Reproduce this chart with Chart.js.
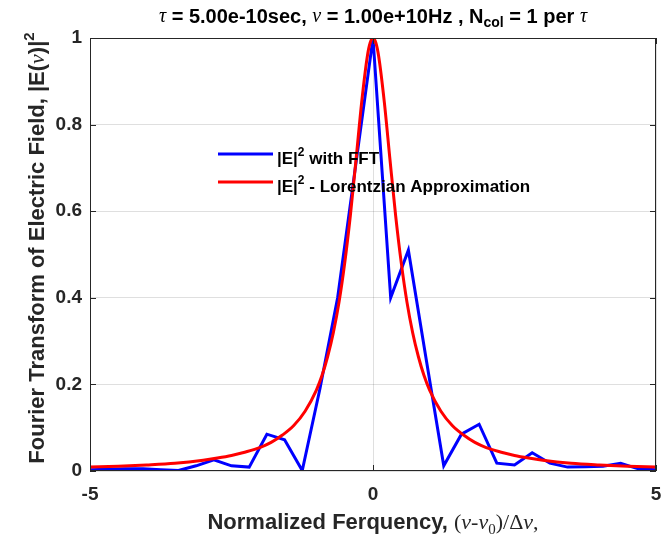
<!DOCTYPE html>
<html>
<head>
<meta charset="utf-8">
<script src="https://cdn.jsdelivr.net/npm/chart.js@4.4.1/dist/chart.umd.min.js"></script>
<style>
	html, body { margin: 0; padding: 0; background: #fff; }
</style>
</head>
<body>
<canvas id="chartSpectre" width="662" height="543"></canvas>
<script>
// Data
const freqFFT = [-5, -4.6875, -4.375, -4.0625, -3.75, -3.4375, -3.125, -2.8125, -2.5, -2.1875, -1.875, -1.5625, -1.25, -0.9375, -0.625, -0.3125, 0,
	0.3125, 0.625, 0.9375, 1.25, 1.5625, 1.875, 2.1875, 2.5, 2.8125, 3.125, 3.4375, 3.75, 4.0625, 4.375, 4.6875, 5];
const intensityFFT = [0.003, 0.004, 0.005, 0.005, 0.003, 0.001, 0.012, 0.026, 0.012, 0.009, 0.085, 0.072, 0.001, 0.19, 0.40, 0.70, 1.0,
	0.40, 0.51, 0.26, 0.012, 0.085, 0.108, 0.018, 0.014, 0.042, 0.018, 0.009, 0.010, 0.011, 0.018, 0.005, 0.003];

const freqLorentz = [-5, -4.5, -4, -3.5, -3, -2.75, -2.5, -2.25, -2, -1.8, -1.6, -1.4, -1.2, -1, -0.9, -0.8, -0.7, -0.6, -0.5, -0.4, -0.3, -0.2, -0.1, -0.05, 0,
	0.05, 0.1, 0.2, 0.3, 0.4, 0.5, 0.6, 0.7, 0.8, 0.9, 1, 1.2, 1.4, 1.6, 1.8, 2, 2.25, 2.5, 2.75, 3, 3.5, 4, 4.5, 5];
const intensityLorentz = [0.009, 0.011, 0.014, 0.018, 0.025, 0.030, 0.036, 0.044, 0.054, 0.066, 0.083, 0.105, 0.138, 0.187, 0.221, 0.265, 0.320, 0.390, 0.480, 0.590, 0.719, 0.852, 0.958, 0.989, 1.000,
	0.989, 0.958, 0.852, 0.719, 0.590, 0.480, 0.390, 0.320, 0.265, 0.221, 0.187, 0.138, 0.105, 0.083, 0.066, 0.054, 0.044, 0.036, 0.030, 0.025, 0.018, 0.014, 0.011, 0.009];

const xTicks = [-5, 0, 5];
const yTicks = [0, 0.2, 0.4, 0.6, 0.8, 1];

const SANS = '"Liberation Sans", Arial, sans-serif';
const SERIF = '"Liberation Serif", "DejaVu Serif", serif';
const AXIS_COLOR = '#262626';

// texte avec indices / exposants
function drawRuns(ctx, runs, x, y, align) {
	let total = 0;
	runs.forEach(function(r){
		ctx.font = r.font;
		r.w = ctx.measureText(r.text).width;
		total += r.w;
	});
	let cx = align == 'left' ? x : x - total / 2;
	runs.forEach(function(r){
		ctx.font = r.font;
		ctx.fillText(r.text, cx, y + (r.dy || 0));
		cx += r.w;
	});
}

const bold = function(s){ return 'bold ' + s + 'px ' + SANS; };
const greek = function(s){ return 'italic ' + s + 'px ' + SERIF; };

const titleRuns = [
	{text: 'τ', font: greek(20)},
	{text: ' = 5.00e-10sec, ', font: bold(20)},
	{text: 'ν', font: greek(20)},
	{text: ' = 1.00e+10Hz , N', font: bold(20)},
	{text: 'col', font: bold(14), dy: 6},
	{text: ' = 1 per ', font: bold(20)},
	{text: 'τ', font: greek(20)}
];
const xLabelRuns = [
	{text: 'Normalized Ferquency, ', font: bold(22)},
	{text: '(', font: '22px ' + SERIF},
	{text: 'ν', font: greek(22)},
	{text: '-', font: '22px ' + SERIF},
	{text: 'ν', font: greek(22)},
	{text: '0', font: '15px ' + SERIF, dy: 7},
	{text: ')/Δ', font: '22px ' + SERIF},
	{text: 'ν', font: greek(22)},
	{text: ',', font: '22px ' + SERIF}
];
const yLabelRuns = [
	{text: 'Fourier Transform of Electric Field, |E(', font: bold(22)},
	{text: 'ν', font: greek(22)},
	{text: ')|', font: bold(22)},
	{text: '2', font: bold(15), dy: -8}
];
const legendItems = [
	{color: '#0000ff', runs: [
		{text: '|E|', font: bold(17)},
		{text: '2', font: bold(12), dy: -6},
		{text: ' with FFT', font: bold(17)}
	]},
	{color: '#ff0000', runs: [
		{text: '|E|', font: bold(17)},
		{text: '2', font: bold(12), dy: -6},
		{text: ' - Lorentzian Approximation', font: bold(17)}
	]}
];

const decorPlugin = {
	id: 'decor',
	afterDraw: function(chart) {
		const ctx = chart.ctx;
		const area = chart.chartArea;
		const sx = chart.scales.x;
		const sy = chart.scales.y;
		ctx.save();

		// cadre + ticks internes
		ctx.strokeStyle = AXIS_COLOR;
		ctx.lineWidth = 1;
		ctx.strokeRect(area.left + 0.5, area.top + 0.5, area.right - area.left - 1, area.bottom - area.top - 1);
		ctx.beginPath();
		yTicks.forEach(function(v){
			const py = Math.round(sy.getPixelForValue(v)) + 0.5;
			ctx.moveTo(area.left, py); ctx.lineTo(area.left + 6, py);
			ctx.moveTo(area.right, py); ctx.lineTo(area.right - 6, py);
		});
		xTicks.forEach(function(v){
			const px = Math.round(sx.getPixelForValue(v)) + 0.5;
			ctx.moveTo(px, area.bottom); ctx.lineTo(px, area.bottom - 6);
			ctx.moveTo(px, area.top); ctx.lineTo(px, area.top + 6);
		});
		ctx.stroke();

		// legende
		ctx.textBaseline = 'middle';
		ctx.textAlign = 'left';
		legendItems.forEach(function(item, i){
			const ly = 154 + i * 28;
			ctx.strokeStyle = item.color;
			ctx.lineWidth = 3;
			ctx.beginPath();
			ctx.moveTo(218, ly); ctx.lineTo(273, ly);
			ctx.stroke();
			ctx.fillStyle = '#000';
			drawRuns(ctx, item.runs, 277, ly + 5, 'left');
		});

		// titres
		const cx = (area.left + area.right) / 2;
		ctx.fillStyle = '#000';
		drawRuns(ctx, titleRuns, cx, 17, 'center');
		ctx.fillStyle = AXIS_COLOR;
		drawRuns(ctx, xLabelRuns, cx, 523, 'center');
		ctx.translate(38, 248);
		ctx.rotate(-Math.PI / 2);
		drawRuns(ctx, yLabelRuns, 0, 0, 'center');
		ctx.restore();
	}
};

const chartSpectre = document.getElementById('chartSpectre');

const spectreChart = new Chart(chartSpectre, {
	type: 'line',
	data: {
		datasets: [{
			label: '|E|² - Lorentzian Approximation',
			data: freqLorentz.map(function(x, i){ return {x: x, y: intensityLorentz[i]}; }),
			borderColor: '#ff0000',
			borderWidth: 3,
			pointRadius: 0,
			cubicInterpolationMode: 'monotone',
			order: 0
		}, {
			label: '|E|² with FFT',
			data: freqFFT.map(function(x, i){ return {x: x, y: intensityFFT[i]}; }),
			borderColor: '#0000ff',
			borderWidth: 3,
			pointRadius: 0,
			tension: 0,
			order: 1
		}]
	},
	options: {
		responsive: false,
		animation: false,
		devicePixelRatio: 1,
		layout: {
			padding: {top: 38, right: 6, left: 0, bottom: 0}
		},
		plugins: {
			legend: { display: false },
			tooltip: { enabled: false }
		},
		scales: {
			x: {
				type: 'linear',
				min: -5,
				max: 5,
				afterBuildTicks: function(scale){ scale.ticks = xTicks.map(function(v){ return {value: v}; }); },
				afterFit: function(scale){
					scale.height = 72;
					scale.paddingLeft = 0;
					scale.paddingRight = 0;
				},
				grid: { color: 'rgba(38,38,38,0.15)', drawTicks: false },
				border: { display: false },
				ticks: {
					padding: 12,
					maxRotation: 0,
					color: AXIS_COLOR,
					font: { family: SANS, size: 19, weight: 'bold' }
				}
			},
			y: {
				min: 0,
				max: 1,
				afterBuildTicks: function(scale){ scale.ticks = yTicks.map(function(v){ return {value: v}; }); },
				afterFit: function(scale){
					scale.width = 90;
					scale.paddingTop = 0;
					scale.paddingBottom = 0;
				},
				grid: { color: 'rgba(38,38,38,0.15)', drawTicks: false },
				border: { display: false },
				ticks: {
					padding: 8,
					color: AXIS_COLOR,
					font: { family: SANS, size: 19, weight: 'bold' },
					callback: function(v){ return String(Math.round(v * 10) / 10); }
				}
			}
		}
	},
	plugins: [decorPlugin]
});
</script>
</body>
</html>
